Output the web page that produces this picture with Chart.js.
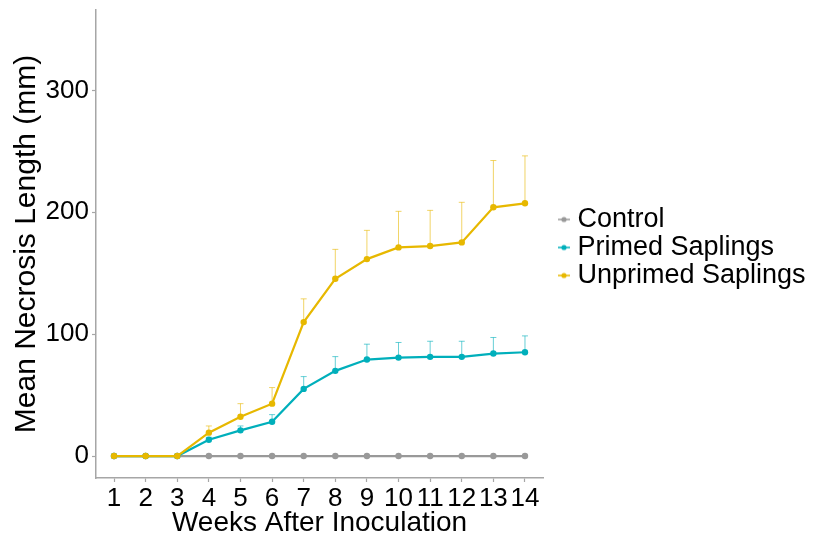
<!DOCTYPE html>
<html>
<head>
<meta charset="utf-8">
<script src="https://cdn.jsdelivr.net/npm/chart.js@4.4.1/dist/chart.umd.min.js"></script>
<style>
  body { margin: 0; background: #fff; }
  #wrap { width: 813px; height: 537px; }
</style>
</head>
<body>
<div id="wrap"><canvas id="necrosis"></canvas></div>
<script>
// weeks after inoculation
var weeks = [1, 2, 3, 4, 5, 6, 7, 8, 9, 10, 11, 12, 13, 14];
var yTicks = [0, 100, 200, 300];

// mean necrosis length (mm) per group
var control = [0, 0, 0, 0, 0, 0, 0, 0, 0, 0, 0, 0, 0, 0];
var primed = [0, 0, 0, 13.4, 21.1, 28.2, 55.1, 69.9, 79.2, 80.8, 81.4, 81.4, 84.1, 85.2];
var unprimed = [0, 0, 0, 19.2, 32.3, 43, 109.9, 145.5, 161.6, 171.2, 172.3, 175.3, 204.1, 207.4];

// upper error (standard error) per group
var primedErr = [0, 0, 0, 2, 3.6, 5.8, 10.1, 11.7, 12.6, 12.4, 12.8, 12.8, 13.2, 13.4];
var unprimedErr = [0, 0, 0, 5.5, 10.7, 13.2, 19.1, 24.1, 23.6, 29.6, 29.3, 32.9, 38.4, 38.9];

var grey = '#999999', teal = '#00AFBB', gold = '#E7B800';
var axisGrey = '#a6a6a6';
var legendWidth = 266;

function points(vals) {
    return weeks.map(function (w, i) { return { x: w, y: vals[i] }; });
}

// line-with-dot key for the legend (left part of the image is blank on purpose)
function legendGlyph(color) {
    var c = document.createElement('canvas');
    c.width = 32; c.height = 8;
    var g = c.getContext('2d');
    g.strokeStyle = color; g.lineWidth = 1.5;
    g.beginPath(); g.moveTo(20, 4); g.lineTo(32, 4); g.stroke();
    g.fillStyle = color;
    g.beginPath(); g.arc(26, 4, 2.6, 0, Math.PI * 2); g.fill();
    return c;
}

// upper error bars with a small cap
var errorBars = {
    id: 'errorBars',
    beforeDatasetsDraw: function (chart) {
        var ctx = chart.ctx, yScale = chart.scales.y;
        chart.data.datasets.forEach(function (ds, i) {
            if (!ds.errors) return;
            var meta = chart.getDatasetMeta(i);
            ctx.save();
            ctx.strokeStyle = ds.errorColor;
            ctx.lineWidth = 1;
            meta.data.forEach(function (pt, j) {
                var e = ds.errors[j];
                if (!e) return;
                var top = yScale.getPixelForValue(ds.data[j].y + e);
                ctx.beginPath();
                ctx.moveTo(pt.x, pt.y);
                ctx.lineTo(pt.x, top);
                ctx.moveTo(pt.x - 3, top);
                ctx.lineTo(pt.x + 3, top);
                ctx.stroke();
            });
            ctx.restore();
        });
    }
};

// the layout caps side boxes at a quarter of the width; give the legend room
var wideLegend = {
    id: 'wideLegend',
    afterInit: function (chart) {
        var lg = chart.legend;
        var fit = lg.fit.bind(lg);
        lg.fit = function () { fit(); this.width = legendWidth; };
    },
    afterLayout: function (chart) {
        // nudge the key down a little
        chart.legend.top += 3.5;
        chart.legend.bottom += 3.5;
    }
};

function series(label, vals, color, order) {
    return {
        label: label,
        data: points(vals),
        borderColor: color,
        backgroundColor: color,
        borderWidth: 2.2,
        pointRadius: 3.2,
        pointBorderWidth: 0,
        pointBackgroundColor: color,
        pointStyle: 'circle',
        tension: 0,
        order: order
    };
}

var dsControl = series('Control', control, grey, 2);
var dsPrimed = series('Primed Saplings', primed, teal, 1);
dsPrimed.errors = primedErr;
dsPrimed.errorColor = 'rgba(0,175,187,0.6)';
var dsUnprimed = series('Unprimed Saplings', unprimed, gold, 0);
dsUnprimed.errors = unprimedErr;
dsUnprimed.errorColor = 'rgba(231,184,0,0.6)';

var glyphs = [legendGlyph(grey), legendGlyph(teal), legendGlyph(gold)];

var ctx = document.getElementById('necrosis').getContext('2d');
var chart = new Chart(ctx, {
    type: 'line',
    data: { datasets: [dsControl, dsPrimed, dsUnprimed] },
    plugins: [errorBars, wideLegend],
    options: {
        responsive: true,
        maintainAspectRatio: false,
        animation: false,
        layout: { padding: { top: 0, right: 4, bottom: 0, left: 0 } },
        plugins: {
            tooltip: { enabled: false },
            legend: {
                position: 'right',
                fullSize: false,
                labels: {
                    color: '#000',
                    font: { family: 'Liberation Sans', size: 27 },
                    usePointStyle: true,
                    pointStyleWidth: 20,
                    padding: 1,
                    generateLabels: function (chart) {
                        return chart.data.datasets.map(function (ds, i) {
                            return {
                                text: ds.label,
                                datasetIndex: i,
                                pointStyle: glyphs[i],
                                fillStyle: ds.borderColor,
                                strokeStyle: ds.borderColor,
                                lineWidth: 0,
                                fontColor: '#000',
                                hidden: false
                            };
                        });
                    }
                }
            }
        },
        scales: {
            x: {
                type: 'linear',
                min: 0.43,
                max: 14.57,
                grid: { drawOnChartArea: false, drawTicks: true, tickLength: 4, tickColor: axisGrey, tickWidth: 1.2 },
                border: { color: axisGrey, width: 1.5 },
                afterBuildTicks: function (scale) {
                    scale.ticks = weeks.map(function (w) { return { value: w }; });
                },
                afterFit: function (scale) {
                    scale.height = 59;
                    scale.paddingLeft = 0;
                    scale.paddingRight = 0;
                },
                ticks: {
                    autoSkip: false,
                    maxRotation: 0,
                    padding: 1,
                    color: '#000',
                    font: { family: 'Liberation Sans', size: 26 }
                },
                title: {
                    display: true,
                    text: 'Weeks After Inoculation',
                    color: '#000',
                    font: { family: 'Liberation Sans', size: 28, lineHeight: 1 },
                    padding: { top: 0, bottom: 0 }
                }
            },
            y: {
                min: -18,
                max: 366,
                grid: { drawOnChartArea: false, drawTicks: true, tickLength: 4, tickColor: axisGrey, tickWidth: 1.2 },
                border: { color: axisGrey, width: 1.5 },
                afterBuildTicks: function (scale) {
                    scale.ticks = yTicks.map(function (v) { return { value: v }; });
                },
                afterFit: function (scale) {
                    scale.width = 96;
                    scale.paddingTop = 10;
                    scale.paddingBottom = 0;
                },
                ticks: {
                    padding: 3,
                    color: '#000',
                    font: { family: 'Liberation Sans', size: 26 }
                },
                title: {
                    display: true,
                    text: 'Mean Necrosis Length (mm)',
                    color: '#000',
                    font: { family: 'Liberation Sans', size: 30, lineHeight: 1.2 },
                    padding: { top: 9, bottom: 0 }
                }
            }
        }
    }
});
</script>
</body>
</html>
